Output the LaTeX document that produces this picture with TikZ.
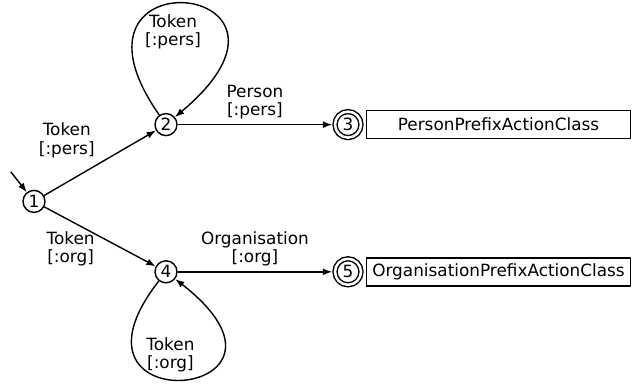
\documentclass[tikz,border=0pt]{standalone}
\usepackage{fontspec}
\setmainfont{DejaVu Sans}
\usetikzlibrary{positioning, arrows.meta}

\begin{document}
\begin{tikzpicture}[
            font=\fontsize{12}{13}\selectfont,
            state/.style={circle, draw, line width=1pt, inner sep=0pt, minimum size=5.5mm},
            accepting/.style={state, double, double distance=1.8pt, minimum size=6.5mm, outer sep=2pt},
            action/.style={rectangle, draw, line width=1pt, inner sep=0pt, minimum width=6.6cm, minimum height=7mm},
            lbl/.style={align=center},
            paths/.style={line width=1pt, -{Latex[length=2.3mm, width=1.7mm]}}
        ]
            \useasboundingbox (0,0) rectangle (15.8,9.575);

            % Nodes
            \node[state] (s1) at (0.85,4.54) {1};
            \node[state] (s2) at (4.15,6.46) {2};
            \node[state] (s4) at (4.15,2.78) {4};
            \node[accepting] (s3) at (8.70,6.46) {3};
            \node[accepting] (s5) at (8.70,2.78) {5};

            \node[action, right = 0.05cm of s3] (a3) {PersonPrefixActionClass};
            \node[action, right = 0.05cm of s5] (a5) {OrganisationPrefixActionClass};

            % Initial arrow
            \path (s1) ++(-0.58,0.74) coordinate (init);
            \draw[paths] (init) -- (s1);

            % Paths: Transitions
            \draw[paths] (s1) -- (s2) node[lbl, midway, above left] {Token\\{[:pers]}};
            \draw[paths] (s1) -- (s4) node[lbl, midway, left, yshift = -0.3cm] {Token\\{[:org]}};
            \draw[paths] (s2) -- (s3) node[lbl, midway, above] {Person\\{[:pers]}};
            \draw[paths] (s4) -- (s5) node[lbl, midway, above] {Organisation\\{[:org]}};

            % Paths: Loops
            \draw[paths] (s2.125) .. controls +(125:5cm) and +(40:5.3cm) .. (s2.40)
                node[lbl, midway, below, xshift = -0.3cm, yshift = -0.15cm] {Token\\{[:pers]}};
            \draw[paths] (s4.232) .. controls +(232:4.6cm) and +(322:4.9cm) .. (s4.322)
                node[lbl, midway, above, xshift = -0.3cm, yshift = 0.05cm] {Token\\{[:org]}};
        \end{tikzpicture}
\end{document}
